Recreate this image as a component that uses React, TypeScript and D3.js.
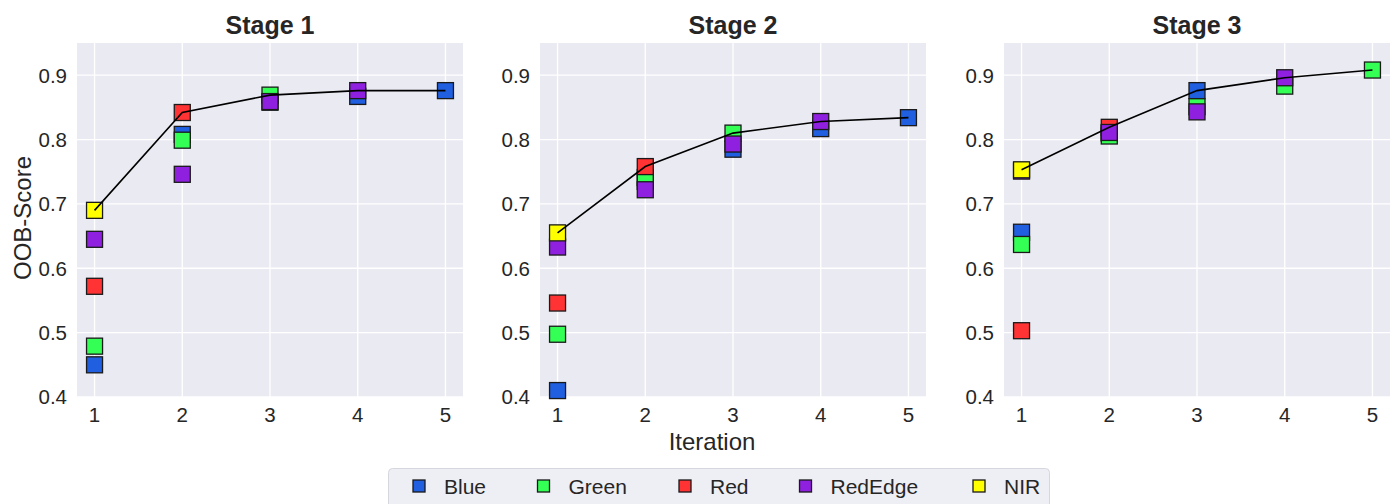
import * as d3 from "d3";

const iterations = [1, 2, 3, 4, 5];
const bands = ["Blue", "Green", "Red", "RedEdge", "NIR"];
const bandColors = ["#1f5fe0", "#33ff55", "#ff3333", "#9020e0", "#ffff00"];
const stageTitles = ["Stage 1", "Stage 2", "Stage 3"];
const yTicks = [0.4, 0.5, 0.6, 0.7, 0.8, 0.9];

// OOB score per band, per iteration (null = band already selected)
const stage1 = [
  [0.45, 0.808, 0.858, 0.867, 0.876],
  [0.479, 0.799, 0.869, null, null],
  [0.572, 0.842, null, null, null],
  [0.645, 0.746, 0.859, 0.876, null],
  [0.69, null, null, null, null],
];
const stage2 = [
  [0.41, 0.735, 0.785, 0.817, 0.834],
  [0.4975, 0.741, 0.81, null, null],
  [0.546, 0.758, null, null, null],
  [0.633, 0.722, 0.793, 0.828, null],
  [0.655, null, null, null, null],
];
const stage3 = [
  [0.656, 0.81, 0.876, null, null],
  [0.637, 0.8055, 0.851, 0.883, 0.908],
  [0.503, 0.819, null, null, null],
  [0.751, 0.811, 0.843, 0.896, null],
  [0.753, null, null, null, null],
];
const stages = [stage1, stage2, stage3];

const W = 1398;
const H = 504;
const panelLeft = [77, 540, 1004];
const panelW = 386;
const top = 43;
const bottom = 397;
const font = "'Liberation Sans', Arial, sans-serif";
const textColor = "#262626";

function Panel({ idx }: { idx: number }) {
  const data = stages[idx];
  const x0 = panelLeft[idx];
  const x = d3.scaleLinear().domain([0.8, 5.2]).range([x0, x0 + panelW]);
  const y = d3.scaleLinear().domain([0.4, 0.95]).range([bottom, top]);
  // line follows the best score of each iteration
  const best = iterations.map((_, i) => d3.max(data, (s) => s[i] ?? undefined) as number);
  const line = d3
    .line<number>()
    .x((_, i) => x(iterations[i]))
    .y((d) => y(d));
  const ms = 16;
  return (
    <g>
      <rect x={x0} y={top} width={panelW} height={bottom - top} fill="#eaeaf2" />
      {yTicks.map((t) => (
        <line key={"gy" + t} x1={x0} x2={x0 + panelW} y1={y(t)} y2={y(t)} stroke="#fff" strokeWidth={1.3} />
      ))}
      {iterations.map((t) => (
        <line key={"gx" + t} x1={x(t)} x2={x(t)} y1={top} y2={bottom} stroke="#fff" strokeWidth={1.3} />
      ))}
      {yTicks.map((t) => (
        <text key={"ty" + t} x={x0 - 10} y={y(t)} dy="0.36em" textAnchor="end" fontSize={20.5} fill={textColor}>
          {t.toFixed(1)}
        </text>
      ))}
      {iterations.map((t) => (
        <text key={"tx" + t} x={x(t)} y={422} textAnchor="middle" fontSize={20.5} fill={textColor}>
          {t}
        </text>
      ))}
      {data.map((series, b) =>
        series.map((v, i) =>
          v == null ? null : (
            <rect
              key={b + "-" + i}
              x={x(iterations[i]) - ms / 2}
              y={y(v) - ms / 2}
              width={ms}
              height={ms}
              fill={bandColors[b]}
              stroke="#1a1a1a"
              strokeWidth={1.3}
            />
          )
        )
      )}
      <path d={line(best) || ""} fill="none" stroke="#000" strokeWidth={1.6} />
      <text x={x0 + panelW / 2} y={34} textAnchor="middle" fontSize={25} fontWeight="bold" fill={textColor}>
        {stageTitles[idx]}
      </text>
    </g>
  );
}

export default function App() {
  const legendX = [419, 543.5, 685, 805.5, 979];
  return (
    <div style={{ position: "fixed", left: 0, top: 0 }}>
      <svg width={W} height={H} viewBox={`0 0 ${W} ${H}`} style={{ display: "block", fontFamily: font }}>
        <rect width={W} height={H} fill="#fff" />
        {stageTitles.map((_, i) => (
          <Panel key={i} idx={i} />
        ))}
        <text transform="translate(31,218) rotate(-90)" textAnchor="middle" fontSize={24} fill={textColor}>
          OOB-Score
        </text>
        <text x={712} y={450} textAnchor="middle" fontSize={24} fill={textColor}>
          Iteration
        </text>
        <rect x={388.5} y={468.5} width={661} height={50} rx={4} fill="#eeeef5" stroke="#d6d6de" strokeWidth={1} />
        {bands.map((b, i) => (
          <g key={b}>
            <rect x={legendX[i] - 6} y={480} width={12} height={12} fill={bandColors[i]} stroke="#1a1a1a" strokeWidth={1.3} />
            <text x={legendX[i] + 25} y={486} dy="0.36em" fontSize={21} fill={textColor}>
              {b}
            </text>
          </g>
        ))}
      </svg>
    </div>
  );
}
